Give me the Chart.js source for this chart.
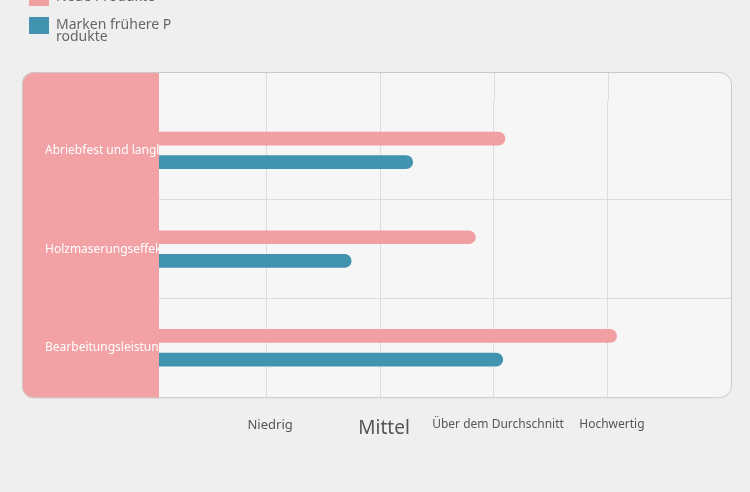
<!DOCTYPE html>
<html lang="de">
<head>
<meta charset="utf-8">
<script src="https://cdn.jsdelivr.net/npm/chart.js@4"></script>
<style>
  html, body { margin: 0; padding: 0; background: #efefef; }
  #wrap { position: relative; width: 750px; height: 492px; }
</style>
</head>
<body>
<div id="wrap"><canvas id="chart"></canvas></div>
<script>
// Data
const categories = ["Abriebfest und langlebig", "Holzmaserungseffekt", "Bearbeitungsleistung"];
const seriesNames = ["Neue Produkte", "Marken frühere Produkte"];
const newValues = [3.1, 2.84, 4.08];
const formerValues = [2.29, 1.75, 3.08];
const tickValues = [1, 2, 3, 4];
const tickLabels = ["Niedrig", "Mittel", "Über dem Durchschnitt", "Hochwertig"];

// Card behind the plot, pink band behind the category labels
const cardPlugin = {
    id: "card",
    afterLayout(chart) {
        // legend is pushed up to the top-left corner, partly off the canvas
        chart.legend.left = 18;
        chart.legend.top = -22;
    },
    beforeDraw(chart) {
        const ctx = chart.ctx;
        const area = chart.chartArea;
        const xScale = chart.scales.x;
        const left = 22, top = 72;
        ctx.save();
        ctx.beginPath();
        ctx.roundRect(left + 0.5, top + 0.5, area.right - left, area.bottom - top, 12);
        ctx.fillStyle = "#f6f6f6";
        ctx.fill();

        ctx.beginPath();
        ctx.roundRect(left, top, area.left - left, area.bottom - top + 1, [12, 0, 0, 12]);
        ctx.fillStyle = "#f2a1a4";
        ctx.fill();

        // grid lines run up to the card top
        ctx.strokeStyle = "#dcdcdc";
        ctx.lineWidth = 1;
        xScale.ticks.forEach(t => {
            const px = Math.round(xScale.getPixelForValue(t.value)) + 0.5;
            ctx.beginPath();
            ctx.moveTo(px, top);
            ctx.lineTo(px, area.top);
            ctx.stroke();
        });
        ctx.restore();
    },
    afterDraw(chart) {
        const ctx = chart.ctx;
        const area = chart.chartArea;
        ctx.save();
        ctx.beginPath();
        ctx.roundRect(22.5, 72.5, area.right - 22, area.bottom - 72, 12);
        ctx.strokeStyle = "#c9c9c9";
        ctx.lineWidth = 1;
        ctx.stroke();
        ctx.restore();
    }
};

const ctx = document.getElementById("chart").getContext("2d");

new Chart(ctx, {
    type: "bar",
    data: {
        labels: categories,
        datasets: [{
            label: seriesNames[0],
            data: newValues,
            backgroundColor: "#f0a0a2",
            borderRadius: 7,
            borderSkipped: "start",
            categoryPercentage: 0.48,
            barPercentage: 0.58
        }, {
            label: seriesNames[1],
            data: formerValues,
            backgroundColor: "#4193af",
            borderRadius: 7,
            borderSkipped: "start",
            categoryPercentage: 0.48,
            barPercentage: 0.58
        }]
    },
    options: {
        indexAxis: "y",
        responsive: true,
        maintainAspectRatio: false,
        animation: false,
        layout: { padding: { left: 45, right: 19, top: 101, bottom: 32 } },
        plugins: {
            tooltip: { enabled: false },
            legend: {
                position: "chartArea",
                align: "start",
                labels: {
                    boxWidth: 20,
                    boxHeight: 17,
                    padding: 11,
                    color: "#666",
                    font: { family: "Noto Sans", size: 14, lineHeight: 0.85 },
                    generateLabels(chart) {
                        const items = Chart.defaults.plugins.legend.labels.generateLabels(chart);
                        // long names wrap onto a second line
                        items.forEach(item => {
                            if (item.text.length > 16) {
                                item.text = [item.text.slice(0, 16), item.text.slice(16)];
                            }
                        });
                        return items;
                    }
                }
            }
        },
        scales: {
            x: {
                min: 0.06,
                max: 5.08,
                afterBuildTicks(scale) {
                    scale.ticks = tickValues.map(v => ({ value: v }));
                },
                grid: { color: "#dcdcdc", drawTicks: false },
                border: { display: false },
                ticks: {
                    autoSkip: false,
                    maxRotation: 0,
                    minRotation: 0,
                    padding: 20,
                    labelOffset: 4,
                    crossAlign: "near",
                    color: "#555",
                    callback: (value, i) => tickLabels[i],
                    font: c => ({ family: "Noto Sans", size: c.index === 1 ? 19 : (c.index === 0 ? 13 : 12) })
                }
            },
            y: {
                grid: {
                    offset: true,
                    drawTicks: false,
                    color: c => (c.index === 1 || c.index === 2) ? "#dcdcdc" : "transparent"
                },
                border: { display: false },
                ticks: {
                    color: "#ffffff",
                    crossAlign: "far",
                    font: { family: "Noto Sans", size: 12 }
                },
                afterFit(scale) {
                    scale.width = 114;
                }
            }
        }
    },
    plugins: [cardPlugin]
});
</script>
</body>
</html>
